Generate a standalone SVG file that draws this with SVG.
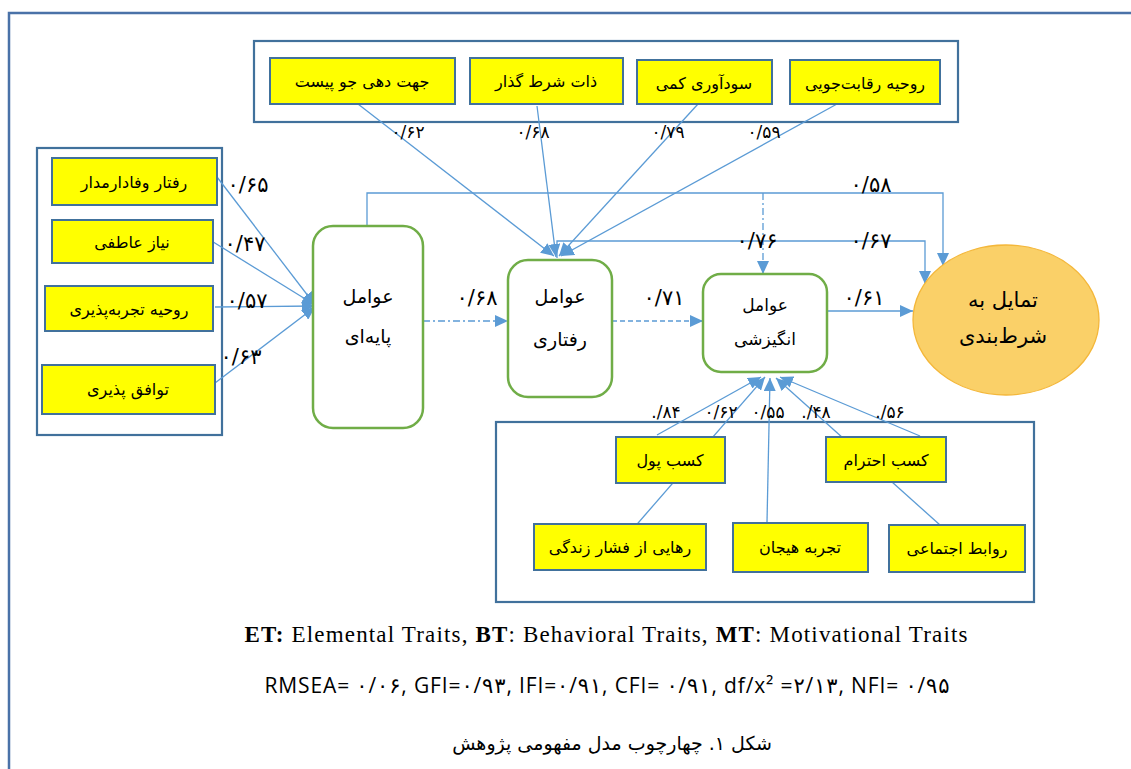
<svg xmlns="http://www.w3.org/2000/svg" width="1131" height="769" viewBox="0 0 1131 769">
<defs>
<style>
.frame{fill:none;stroke:#4A72A8;stroke-width:2.5}
.grp{fill:none;stroke:#41719C;stroke-width:2.2}
.yb{fill:#FFFF00;stroke:#41719C;stroke-width:2}
.gn{fill:#FFFFFF;stroke:#70AD47;stroke-width:2.5}
.fa{font-family:"DejaVu Sans",sans-serif;fill:#000;text-anchor:middle}
.yt{font-size:16px}
.nt{font-size:19px}
.lb{font-family:"DejaVu Sans",sans-serif;font-size:17px;fill:#000;text-anchor:middle}
.lg{font-size:21px}
.c{fill:none;stroke:#5B9BD5;stroke-width:1.3}
.ca{fill:none;stroke:#5B9BD5;stroke-width:1.3;marker-end:url(#ah)}
</style>
<marker id="ah" markerUnits="userSpaceOnUse" markerWidth="13" markerHeight="12" refX="13" refY="6" orient="auto">
<path d="M0,0 L13,6 L0,12 z" fill="#5B9BD5"/>
</marker>
</defs>
<rect x="0" y="0" width="1131" height="769" fill="#FFFFFF"/>
<rect class="frame" x="9" y="13" width="1200" height="800"/>

<g id="top-group">
<rect class="grp" x="254" y="41" width="704" height="81"/>
</g>
<g id="left-group">
<rect class="grp" x="37" y="148" width="185" height="287"/>
</g>
<g id="bottom-group">
<rect class="grp" x="496" y="422" width="538" height="180"/>
</g>

<g id="connectors">
<path class="ca" d="M217,177 L315,305"/>
<path class="ca" d="M210,240 L315,305"/>
<path class="ca" d="M215,307 L315,306"/>
<path class="ca" d="M215,383 L315,307"/>
<path class="ca" d="M358,104 L554,256"/>
<path class="ca" d="M537,106 L556,257"/>
<path class="ca" d="M698,104 L559,256"/>
<path class="ca" d="M837,104 L561,256"/>
<path class="ca" d="M423,321 L508,321" stroke-dasharray="7 3 2 3"/>
<path class="ca" d="M612,321 L703,321" stroke-dasharray="5 3"/>
<path class="ca" d="M827,311 L913,311"/>
<path class="ca" d="M367,226 L367,193 L943,193 L943,266"/>
<path class="ca" d="M557,258 L557,241 L925,241 L925,284"/>
<path class="ca" d="M763,193 L763,274" stroke-dasharray="7 3 2 3"/>
<path class="ca" d="M657,435 L761,377"/>
<path class="ca" d="M632,530 L765,377"/>
<path class="ca" d="M767,522 L770,378"/>
<path class="ca" d="M940,525 L776,378"/>
<path class="ca" d="M920,436 L780,377"/>
</g>

<g id="n-jahat">
<rect class="yb" x="270" y="58" width="185" height="46"/>
<text class="fa yt" x="362" y="87">جهت دهی جو پیست</text>
</g>
<g id="n-zat">
<rect class="yb" x="470" y="58" width="153" height="46"/>
<text class="fa yt" x="546" y="87">ذات شرط گذار</text>
</g>
<g id="n-sodavari">
<rect class="yb" x="637" y="60" width="135" height="44"/>
<text class="fa yt" x="704" y="89">سودآوری کمی</text>
</g>
<g id="n-reghabat">
<rect class="yb" x="790" y="60" width="150" height="44"/>
<text class="fa yt" x="865" y="89">روحیه رقابت‌جویی</text>
</g>

<g id="n-vafadar">
<rect class="yb" x="52" y="158" width="165" height="47"/>
<text class="fa yt" x="134" y="188">رفتار وفادارمدار</text>
</g>
<g id="n-niaz">
<rect class="yb" x="52" y="220" width="161" height="43"/>
<text class="fa yt" x="132" y="248">نیاز عاطفی</text>
</g>
<g id="n-tajrobe">
<rect class="yb" x="45" y="286" width="168" height="45"/>
<text class="fa yt" x="129" y="315">روحیه تجربه‌پذیری</text>
</g>
<g id="n-tavafogh">
<rect class="yb" x="42" y="365" width="173" height="49"/>
<text class="fa yt" x="128" y="395">توافق پذیری</text>
</g>

<g id="n-payei">
<rect class="gn" x="313" y="226" width="110" height="202" rx="20"/>
<text class="fa nt" x="368" y="303">عوامل</text>
<text class="fa nt" x="368" y="343">پایه‌ای</text>
</g>
<g id="n-raftari">
<rect class="gn" x="508" y="260" width="104" height="137" rx="20"/>
<text class="fa nt" x="560" y="303">عوامل</text>
<text class="fa nt" x="560" y="346">رفتاری</text>
</g>
<g id="n-angizeshi">
<rect class="gn" x="703" y="274" width="124" height="98" rx="18"/>
<text class="fa" style="font-size:17px" x="765" y="311">عوامل</text>
<text class="fa" style="font-size:17px" x="765" y="345">انگیزشی</text>
</g>
<g id="n-tamayol">
<ellipse cx="1006" cy="320" rx="93" ry="75" fill="#FAD068" stroke="#F4B73A" stroke-width="1.3"/>
<text class="fa" style="font-size:21px" x="1003" y="307">تمایل به</text>
<text class="fa" style="font-size:21px" x="1003" y="343">شرط‌بندی</text>
</g>

<g id="n-pool">
<rect class="yb" x="616" y="437" width="109" height="46"/>
<text class="fa yt" x="670" y="466">کسب پول</text>
</g>
<g id="n-ehteram">
<rect class="yb" x="826" y="437" width="120" height="45"/>
<text class="fa yt" x="886" y="466">کسب احترام</text>
</g>
<g id="n-rahayi">
<rect class="yb" x="534" y="524" width="172" height="46"/>
<text class="fa yt" x="620" y="553">رهایی از فشار زندگی</text>
</g>
<g id="n-hayajan">
<rect class="yb" x="733" y="523" width="135" height="49"/>
<text class="fa yt" x="800" y="553">تجربه هیجان</text>
</g>
<g id="n-ravabet">
<rect class="yb" x="889" y="525" width="136" height="47"/>
<text class="fa yt" x="957" y="554">روابط اجتماعی</text>
</g>

<g id="labels">
<text class="lb" x="408" y="138">۰/۶۲</text>
<text class="lb" x="533" y="138">۰/۶۸</text>
<text class="lb" x="668" y="138">۰/۷۹</text>
<text class="lb" x="764" y="138">۰/۵۹</text>
<text class="lb lg" x="248" y="192">۰/۶۵</text>
<text class="lb lg" x="245" y="251">۰/۴۷</text>
<text class="lb lg" x="247" y="308">۰/۵۷</text>
<text class="lb lg" x="241" y="364">۰/۶۳</text>
<text class="lb lg" x="477" y="305">۰/۶۸</text>
<text class="lb lg" x="664" y="305">۰/۷۱</text>
<text class="lb lg" x="864" y="305">۰/۶۱</text>
<text class="lb lg" x="871" y="192">۰/۵۸</text>
<text class="lb lg" x="871" y="248">۰/۶۷</text>
<text class="lb lg" x="757" y="248">۰/۷۶</text>
<text class="lb" x="666" y="418">./۸۴</text>
<text class="lb" x="721" y="418">۰/۶۲</text>
<text class="lb" x="768" y="418">۰/۵۵</text>
<text class="lb" x="816" y="418">./۴۸</text>
<text class="lb" x="890" y="418">./۵۶</text>
</g>

<g id="captions">
<text x="606" y="642" textLength="723" lengthAdjust="spacing" style="font-family:'Liberation Serif',serif;font-size:23px;text-anchor:middle;fill:#000"><tspan font-weight="bold">ET:</tspan> Elemental Traits, <tspan font-weight="bold">BT</tspan>: Behavioral Traits, <tspan font-weight="bold">MT</tspan>: Motivational Traits</text>
<text x="607" y="693" textLength="685" lengthAdjust="spacing" style="font-family:'Open Sans','DejaVu Sans',sans-serif;font-size:21px;text-anchor:middle;fill:#000">RMSEA= ۰/۰۶, GFI=۰/۹۳, IFI=۰/۹۱, CFI= ۰/۹۱, df/x² =۲/۱۳, NFI= ۰/۹۵</text>
<text x="612" y="750" style="font-family:'DejaVu Sans',sans-serif;font-size:19px;text-anchor:middle;fill:#000">شکل ۱. چهارچوب مدل مفهومی پژوهش</text>
</g>
</svg>
